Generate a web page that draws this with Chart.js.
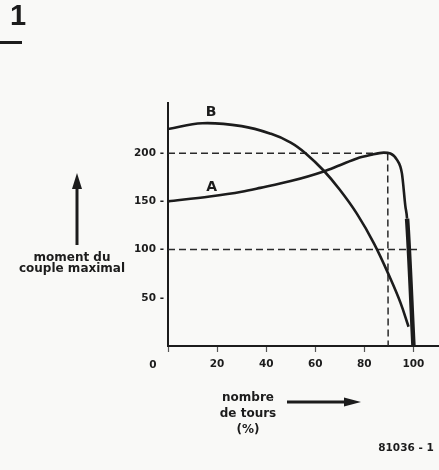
<!DOCTYPE html>
<html>
<head>
<meta charset="utf-8">
<script src="https://cdn.jsdelivr.net/npm/chart.js@4"></script>
<style>
  body { margin: 0; background: #f9f9f7; }
  #wrap { position: relative; width: 439px; height: 470px; font-family: "DejaVu Sans", sans-serif; font-weight: bold; color: #1c1c1c; }
  #wrap canvas { position: absolute; left: 0; top: 0; }
  .lbl { position: absolute; text-align: center; white-space: nowrap; }
</style>
</head>
<body>
<div id="wrap">
  <canvas id="torqueChart" width="439" height="470"></canvas>
  <div class="lbl" style="left:10px;top:0px;font-size:29px;line-height:30px;font-family:'Liberation Sans',sans-serif;">1</div>
  <div style="position:absolute;left:0;top:41px;width:22px;height:3px;background:#1c1c1c;"></div>
  <div class="lbl" style="left:12px;top:252px;width:120px;font-size:12px;line-height:11px;">moment du<br>couple maximal</div>
  <div class="lbl" style="left:208px;top:389px;width:80px;font-size:12px;line-height:16px;">nombre<br>de tours<br>(%)</div>
  <div class="lbl" style="left:370px;top:441px;width:72px;font-size:10.5px;">81036 - 1</div>
</div>
<script>
// percentage of speed (x) vs maximum torque (y)
const xA = [0, 17, 30, 37.6, 50, 63.4, 70, 77, 82.4, 87.9, 93.3, 95.3, 96.7, 97.4, 100];
const curveA = [150, 155, 160, 164, 171, 181, 187.5, 194.5, 198, 200.5, 193, 179, 145, 132, 0];
const xB = [0, 14, 30, 42, 50, 56, 63.4, 70, 77, 84, 90.6, 94.7, 98];
const curveB = [225, 231, 228, 220, 211, 200, 182, 162, 137, 106, 70, 45, 20];

// dashed guide lines
const guide200 = [[0, 200], [89.5, 200], [89.7, -3]];
const guide100 = [[0, 100], [103, 100]];

const xTicks = [0, 20, 40, 60, 80, 100];
const yTicks = [50, 100, 150, 200];
const curveLabels = [{ text: 'B', x: 17.6, y: 242 }, { text: 'A', x: 17.8, y: 164.5 }];

const ink = '#1c1c1c';
const toPts = (xs, ys) => xs.map((x, i) => ({ x: x, y: ys[i] }));

const extras = {
  id: 'extras',
  afterDraw(chart) {
    const ctx = chart.ctx;
    const xs = chart.scales.x, ys = chart.scales.y;
    ctx.save();
    ctx.fillStyle = ink;
    ctx.strokeStyle = ink;
    ctx.textAlign = 'center';
    ctx.textBaseline = 'middle';
    ctx.font = 'bold 14px "DejaVu Sans"';
    curveLabels.forEach(l => ctx.fillText(l.text, xs.getPixelForValue(l.x), ys.getPixelForValue(l.y)));
    // origin label sits left of the axis
    ctx.font = 'bold 10.5px "DejaVu Sans"';
    ctx.fillText('0', xs.getPixelForValue(0) - 15, ys.getPixelForValue(0) + 19);

    // arrows
    ctx.lineWidth = 3;
    ctx.beginPath(); ctx.moveTo(77, 245); ctx.lineTo(77, 186); ctx.stroke();
    ctx.beginPath(); ctx.moveTo(77, 173); ctx.lineTo(72, 189); ctx.lineTo(82, 189); ctx.closePath(); ctx.fill();
    ctx.beginPath(); ctx.moveTo(287, 402); ctx.lineTo(346, 402); ctx.stroke();
    ctx.beginPath(); ctx.moveTo(361, 402); ctx.lineTo(344, 397.5); ctx.lineTo(344, 406.5); ctx.closePath(); ctx.fill();
    ctx.restore();
  }
};

const guideStyle = {
  borderColor: '#2a2a2a',
  borderWidth: 1.5,
  borderDash: [7, 4],
  pointRadius: 0,
  tension: 0
};

new Chart(document.getElementById('torqueChart'), {
  type: 'line',
  data: {
    datasets: [
      {
        label: 'A',
        data: toPts(xA, curveA),
        borderColor: ink,
        borderWidth: 2.6,
        pointRadius: 0,
        cubicInterpolationMode: 'monotone',
        segment: { borderWidth: c => (c.p0.parsed.x >= 97 ? 4.5 : 2.6) }
      },
      {
        label: 'B',
        data: toPts(xB, curveB),
        borderColor: ink,
        borderWidth: 2.6,
        pointRadius: 0,
        tension: 0.4
      },
      Object.assign({ label: '200', data: guide200.map(p => ({ x: p[0], y: p[1] })) }, guideStyle),
      Object.assign({ label: '100', data: guide100.map(p => ({ x: p[0], y: p[1] })) }, guideStyle)
    ]
  },
  options: {
    responsive: false,
    animation: false,
    layout: { padding: { left: 0, top: 103, right: 1, bottom: 94 } },
    plugins: { legend: { display: false }, tooltip: { enabled: false } },
    scales: {
      x: {
        type: 'linear',
        min: 0,
        max: 110,
        afterBuildTicks: s => { s.ticks = xTicks.map(v => ({ value: v })); },
        afterFit: s => { s.height = 30; },
        border: { color: ink, width: 2 },
        grid: { drawOnChartArea: false, tickLength: 6, tickWidth: 1.2, tickColor: '#555' },
        ticks: {
          color: ink,
          padding: 6,
          maxRotation: 0,
          font: { family: 'DejaVu Sans', weight: 'bold', size: 10.5 },
          callback: v => (v === 0 ? '' : String(v))
        }
      },
      y: {
        min: 0,
        max: 252,
        afterBuildTicks: s => { s.ticks = yTicks.map(v => ({ value: v })); },
        afterFit: s => { s.width = 168; },
        border: { color: ink, width: 2 },
        grid: { display: false, drawTicks: false },
        ticks: {
          color: ink,
          padding: 4,
          font: { family: 'DejaVu Sans', weight: 'bold', size: 10.5 },
          callback: v => v + ' -'
        }
      }
    }
  },
  plugins: [extras]
});
</script>
</body>
</html>
